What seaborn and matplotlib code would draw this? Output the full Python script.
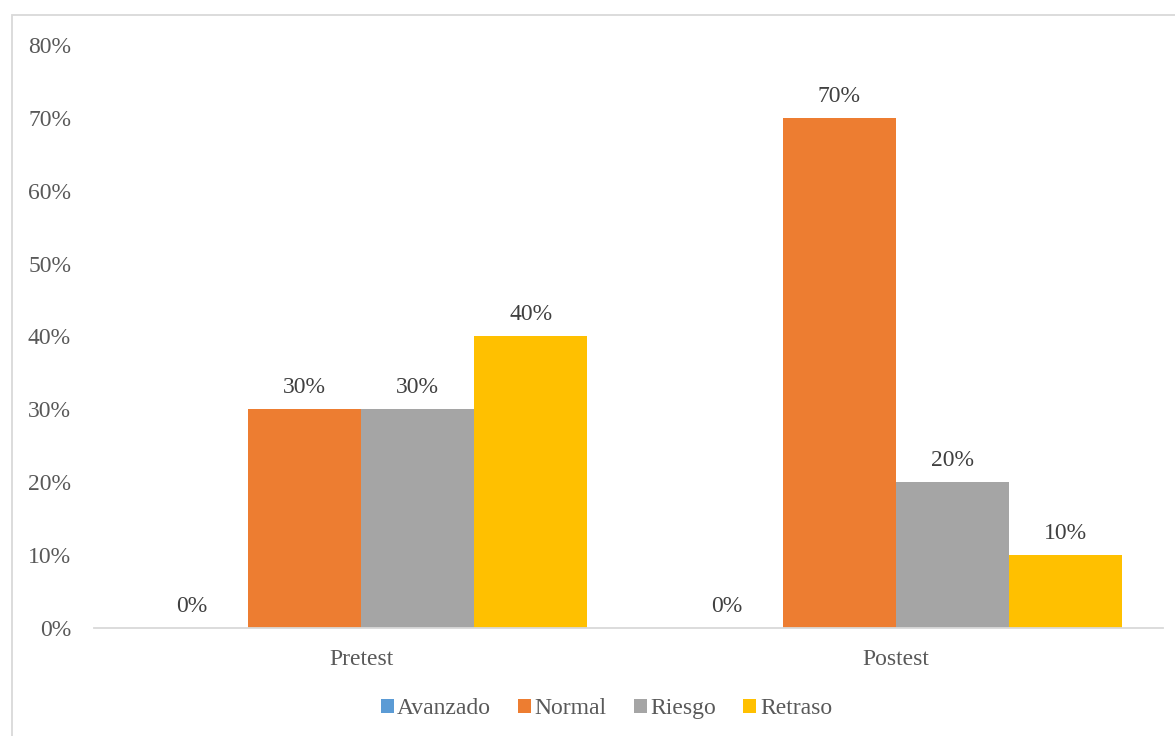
import pandas as pd
import matplotlib
matplotlib.use('Agg')
import matplotlib.pyplot as plt
from matplotlib.patches import Rectangle
from matplotlib.ticker import PercentFormatter
import seaborn as sns

# datos del grafico
pruebas = ['Pretest', 'Postest']
niveles = ['Avanzado', 'Normal', 'Riesgo', 'Retraso']
pretest = [0.0, 0.30, 0.30, 0.40]
postest = [0.0, 0.70, 0.20, 0.10]
colores = ['#5b9bd5', '#ed7d31', '#a5a5a5', '#ffc000']

filas = []
for prueba, valores in zip(pruebas, [pretest, postest]):
    for nivel, v in zip(niveles, valores):
        filas.append({'prueba': prueba, 'nivel': nivel, 'valor': v})
df = pd.DataFrame(filas)

sns.set_style('white')
plt.rcParams['font.family'] = ['Liberation Serif', 'DejaVu Serif']

fig = plt.figure(figsize=(11.75, 7.36), dpi=100)
ax = fig.add_axes([0.080, 0.1467, 0.910, 0.7922])

sns.barplot(data=df, x='prueba', y='valor', hue='nivel', order=pruebas,
            hue_order=niveles, palette=colores, width=0.845, linewidth=0,
            saturation=1, ax=ax)

for cont in ax.containers:
    ax.bar_label(cont, labels=['{:.0f}%'.format(b.get_height() * 100) for b in cont],
                 padding=8, fontsize=17, color='#404040')

ax.set_ylim(0, 0.8)
ax.set_yticks([i / 10 for i in range(9)])
ax.yaxis.set_major_formatter(PercentFormatter(1.0, decimals=0))
ax.set_xlim(-0.5, 1.5)
ax.set_xlabel('')
ax.set_ylabel('')
ax.tick_params(axis='both', length=0, labelsize=17, labelcolor='#595959')
ax.tick_params(axis='y', pad=16.5)
ax.tick_params(axis='x', pad=15)
for lado in ['top', 'right', 'left']:
    ax.spines[lado].set_visible(False)
ax.spines['bottom'].set_color('#d9d9d9')
ax.spines['bottom'].set_linewidth(1.3)

# leyenda abajo
handles, labels = ax.get_legend_handles_labels()
ax.legend(handles, labels, loc='center', bbox_to_anchor=(0.516, 0.037),
          bbox_transform=fig.transFigure, ncol=4, frameon=False, fontsize=17,
          labelcolor='#595959', handlelength=0.55, handleheight=0.55,
          handletextpad=0.15, columnspacing=1.15)

# borde del area del grafico
fig.patches.append(Rectangle((12 / 1175, -0.05), 1.2, 1 - 15 / 736 + 0.05,
                             transform=fig.transFigure, fill=False,
                             edgecolor='#d9d9d9', linewidth=1.3))

fig.savefig('out.png', dpi=100)
